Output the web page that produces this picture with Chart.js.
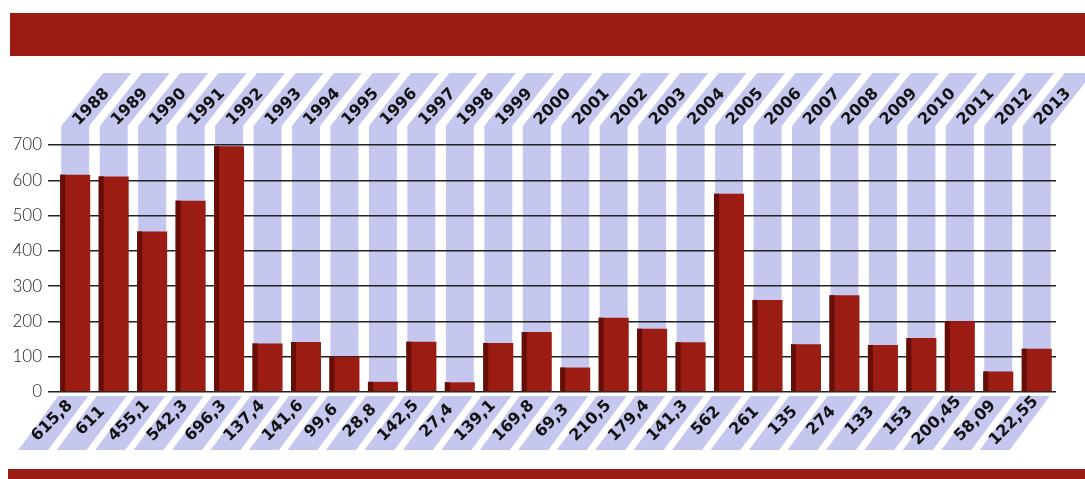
<!DOCTYPE html>
<html><head><meta charset="utf-8">
<script src="https://cdn.jsdelivr.net/npm/chart.js@4.4.1/dist/chart.umd.min.js"></script>
<style>html,body{margin:0;padding:0;background:#fff;}#wrap{width:1085px;height:479px;position:relative;}</style>
</head><body><div id="wrap"><canvas id="c" width="1085" height="479"></canvas></div>
<script>
const years = ['1988','1989','1990','1991','1992','1993','1994','1995','1996','1997','1998','1999','2000','2001','2002','2003','2004','2005','2006','2007','2008','2009','2010','2011','2012','2013'];
const values = [615.8, 611, 455.1, 542.3, 696.3, 137.4, 141.6, 99.6, 28.8, 142.5, 27.4, 139.1, 169.8, 69.3, 210.5, 179.4, 141.3, 562, 261, 135, 274, 133, 153, 200.45, 58.09, 122.55];
const valueLabels = values.map(v => String(v).replace('.', ','));
const yMin = 0, yMax = 700, yStep = 100;

const RED = '#9b1c12', DARK = '#650d07', LAV = '#c6c7ee';

const deco = {
  id: 'deco',
  beforeDraw(chart) {
    const ctx = chart.ctx, xs = chart.scales.x, ys = chart.scales.y;
    ctx.save();
    ctx.fillStyle = '#fff'; ctx.fillRect(0, 0, chart.width, chart.height);
    ctx.fillStyle = RED;
    ctx.fillRect(10, 13, 1075, 43);
    ctx.fillRect(8, 469, 1077, 10);
    const base = ys.getPixelForValue(0), top = ys.top;
    const kinkY = top - 19, topY = top - 72, hw = 14, sh = 42;
    ctx.fillStyle = LAV;
    years.forEach((yr, i) => {
      const cx = xs.getPixelForValue(i);
      ctx.beginPath();
      ctx.moveTo(cx - hw, base); ctx.lineTo(cx - hw, kinkY);
      ctx.lineTo(cx - hw + sh, topY); ctx.lineTo(cx + hw + sh, topY);
      ctx.lineTo(cx + hw, kinkY); ctx.lineTo(cx + hw, base);
      ctx.closePath(); ctx.fill();
      const b0 = base + 4, b1 = base + 58;
      ctx.beginPath();
      ctx.moveTo(cx - hw - 3, b0); ctx.lineTo(cx + hw - 1, b0);
      ctx.lineTo(cx + hw - 41, b1); ctx.lineTo(cx - hw - 43, b1);
      ctx.closePath(); ctx.fill();
    });
    ctx.restore();
  },
  afterDatasetsDraw(chart) {
    const ctx = chart.ctx, xs = chart.scales.x, ys = chart.scales.y;
    const meta = chart.getDatasetMeta(0);
    ctx.save();
    ctx.fillStyle = DARK;
    meta.data.forEach(bar => {
      const p = bar.getProps(['x', 'y', 'base', 'width'], true);
      ctx.fillRect(p.x - p.width / 2, p.y, 5, p.base - p.y);
    });
    const base = ys.getPixelForValue(0), top = ys.top;
    ctx.fillStyle = '#111';
    ctx.textAlign = 'center'; ctx.textBaseline = 'middle';
    ctx.font = 'bold 16px "DejaVu Sans"';
    years.forEach((yr, i) => {
      const cx = xs.getPixelForValue(i);
      ctx.save(); ctx.translate(cx + 16, top - 38); ctx.rotate(-Math.PI / 4);
      ctx.fillText(yr, 0, 0); ctx.restore();
    });
    valueLabels.forEach((t, i) => {
      const cx = xs.getPixelForValue(i);
      ctx.save(); ctx.translate(cx - 23, base + 29); ctx.rotate(-Math.PI / 4);
      ctx.fillText(t, 0, 0); ctx.restore();
    });
    ctx.restore();
  }
};

new Chart(document.getElementById('c'), {
  type: 'bar',
  data: {
    labels: years,
    datasets: [{ data: values, backgroundColor: RED, borderWidth: 0, barPercentage: 0.78, categoryPercentage: 1 }]
  },
  options: {
    responsive: false, animation: false, devicePixelRatio: 1,
    layout: { padding: { top: 145, bottom: 87, left: 0, right: 29 } },
    plugins: { legend: { display: false }, tooltip: { enabled: false } },
    scales: {
      x: { display: false, offset: true },
      y: {
        min: yMin, max: yMax, z: 1,
        afterFit(s) { s.width = 56; },
        border: { display: false },
        grid: { color: '#222', lineWidth: 1.5, tickLength: 8, drawTicks: true },
        ticks: { stepSize: yStep, padding: 6, color: '#222', font: { family: 'Lato', size: 17, weight: '300' } }
      }
    }
  },
  plugins: [deco]
});
</script>
</body></html>
